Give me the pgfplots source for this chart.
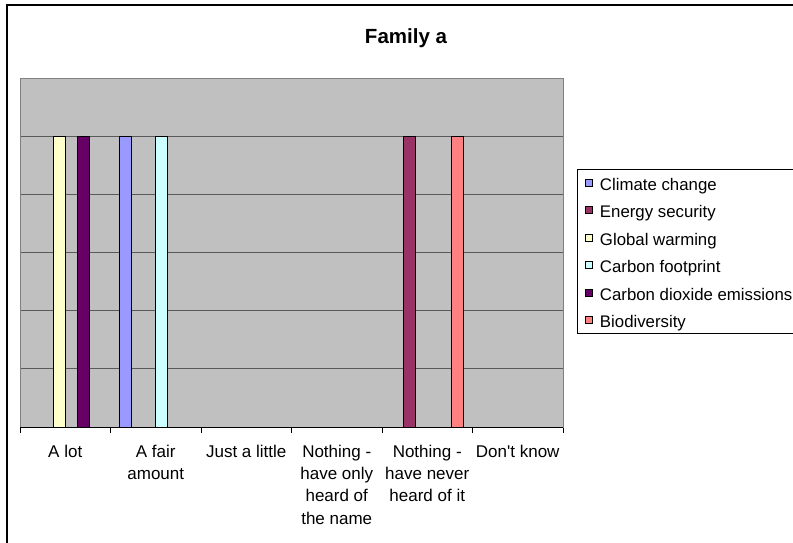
\documentclass[border=0pt]{standalone}
\usepackage{fontspec}
\setmainfont{Liberation Sans}
\usepackage{pgfplots}
\pgfplotsset{compat=1.18}
\definecolor{ccA}{HTML}{9999FF}
\definecolor{ccB}{HTML}{993366}
\definecolor{ccC}{HTML}{FFFFCC}
\definecolor{ccD}{HTML}{CCFFFF}
\definecolor{ccE}{HTML}{660066}
\definecolor{ccF}{HTML}{FF8080}
\definecolor{plotbg}{HTML}{C0C0C0}
\definecolor{gridc}{HTML}{5A5A5A}
\definecolor{borderc}{HTML}{808080}
\begin{document}
\begin{tikzpicture}[x=1pt,y=1pt]
\clip (0,0) rectangle (793,542);
\fill[white] (0,0) rectangle (793,542);
\draw[black,line width=1.5pt] (7,-5) -- (7,537) -- (800,537);
\node[anchor=base,font=\bfseries\fontsize{20.5}{24}\selectfont] at (406,498) {Family a};
\begin{axis}[
  at={(20pt,115pt)}, anchor=south west,
  scale only axis, width=543pt, height=348.5pt,
  xmin=-0.5, xmax=5.5, ymin=0, ymax=1.2,
  axis background/.style={fill=plotbg},
  axis line style={draw=borderc, line width=0.8pt},
  ybar=0pt, bar width=12.07pt,
  xtick={0,1,2,3,4,5},
  xtick pos=bottom,
  xticklabels={{A lot},{A fair\\amount},{Just a little},{Nothing -\\have only\\heard of\\the name},{Nothing -\\have never\\heard of it},{Don\textquotesingle t know}},
  major x tick style={draw=none},
  minor xtick={-0.5,0.5,1.5,2.5,3.5,4.5,5.5},
  minor tick length=6pt, tick align=outside,
  minor x tick style={draw=black, line width=0.8pt},
  xticklabel style={align=center, anchor=north, inner sep=0pt, font=\fontsize{17}{22.3}\selectfont, yshift=-13.5pt},
  ytick={0.2,0.4,0.6,0.8,1.0},
  yticklabels={\empty,\empty,\empty,\empty,\empty},
  yticklabel style={opacity=0},
  major y tick style={draw=none},
  ymajorgrids,
  grid style={draw=gridc, line width=1pt},
  legend style={at={(1.0263,0.7403)}, anchor=north west, draw=black, line width=0.8pt, fill=white,
    font=\fontsize{16.8}{20}\selectfont, inner xsep=7.4pt, inner ysep=2pt,
    row sep=5pt,
    nodes={inner sep=0pt, text height=18.6pt, text depth=3.9pt},
    /tikz/every odd column/.append style={column sep=7.3pt}},
  legend cell align=left,
  legend image code/.code={\draw[#1, draw=black, line width=0.6pt] (0pt,-3.5pt) rectangle (7pt,3.5pt);},
  every axis plot/.append style={draw=black, line width=0.8pt},
]
\addplot[fill=ccA] coordinates {(1,1)};
\addplot[fill=ccB] coordinates {(4,1)};
\addplot[fill=ccC] coordinates {(0,1)};
\addplot[fill=ccD] coordinates {(1,1)};
\addplot[fill=ccE] coordinates {(0,1)};
\addplot[fill=ccF] coordinates {(4,1)};
\legend{Climate change,Energy security,Global warming,Carbon footprint,Carbon dioxide emissions,Biodiversity}
\draw[black, line width=0.8pt] (rel axis cs:0,0) -- (rel axis cs:1,0);
\end{axis}
\end{tikzpicture}
\end{document}
